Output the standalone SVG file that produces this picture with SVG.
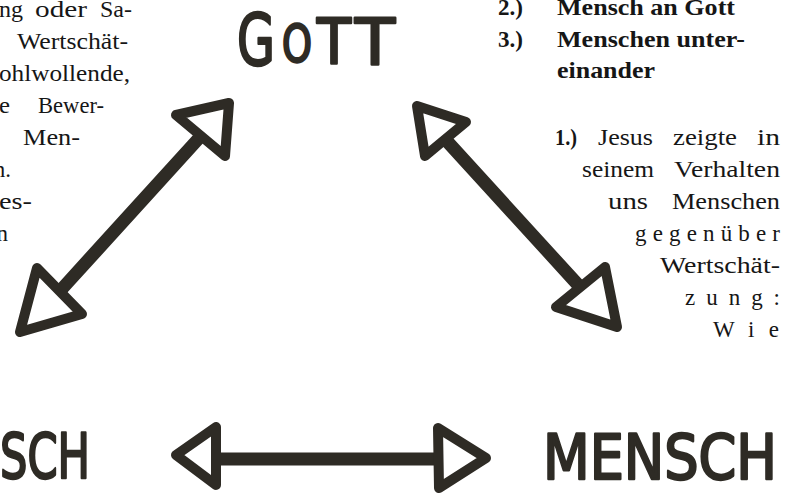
<svg xmlns="http://www.w3.org/2000/svg" width="785" height="495" viewBox="0 0 785 495">
<style>
  .t{font-family:"Liberation Serif","Times New Roman",serif;font-size:23px;fill:#161616}
  .b{font-weight:bold}
  .hand{font-family:"DejaVu Sans",sans-serif;fill:#2e2b25;stroke:#2e2b25;stroke-width:2.5;stroke-linejoin:round}
  .shaft{fill:none;stroke:#2e2b25;stroke-width:13;stroke-linecap:round}
  .head{fill:#fff;stroke:#2e2b25;stroke-width:10;stroke-linejoin:round}
</style>
<rect width="785" height="495" fill="#fff"/>

<g id="text-left" class="t">
  <text y="17"><tspan x="-1" textLength="24" lengthAdjust="spacingAndGlyphs">ng</tspan> <tspan x="35" textLength="52" lengthAdjust="spacingAndGlyphs">oder</tspan> <tspan x="100" textLength="32" lengthAdjust="spacingAndGlyphs">Sa-</tspan></text>
  <text y="49"><tspan x="17" textLength="111" lengthAdjust="spacingAndGlyphs">Wertschät-</tspan></text>
  <text y="81"><tspan x="-1" textLength="131" lengthAdjust="spacingAndGlyphs">ohlwollende,</tspan></text>
  <text y="113"><tspan x="-1" textLength="11" lengthAdjust="spacingAndGlyphs">e</tspan> <tspan x="38" textLength="66" lengthAdjust="spacingAndGlyphs">Bewer-</tspan></text>
  <text y="145"><tspan x="23" textLength="57" lengthAdjust="spacingAndGlyphs">Men-</tspan></text>
  <text x="11" y="177" text-anchor="end">n.</text>
  <text y="209"><tspan x="-1" textLength="33" lengthAdjust="spacingAndGlyphs">es-</tspan></text>
  <text x="8" y="241" text-anchor="end">n</text>
</g>

<g id="text-right-list" class="t b">
  <text y="15"><tspan x="498" textLength="25" lengthAdjust="spacingAndGlyphs">2.)</tspan> <tspan x="557" textLength="178" lengthAdjust="spacingAndGlyphs">Mensch an Gott</tspan></text>
  <text y="47"><tspan x="498" textLength="25" lengthAdjust="spacingAndGlyphs">3.)</tspan> <tspan x="557" textLength="188" lengthAdjust="spacingAndGlyphs">Menschen unter-</tspan></text>
  <text y="78"><tspan x="557" textLength="98" lengthAdjust="spacingAndGlyphs">einander</tspan></text>
</g>

<g id="text-right" class="t">
  <text y="145"><tspan x="555" class="b" textLength="22" lengthAdjust="spacingAndGlyphs">1.)</tspan> <tspan x="598" textLength="55" lengthAdjust="spacingAndGlyphs">Jesus</tspan> <tspan x="673" textLength="64" lengthAdjust="spacingAndGlyphs">zeigte</tspan> <tspan x="757" textLength="23" lengthAdjust="spacingAndGlyphs">in</tspan></text>
  <text y="177"><tspan x="582" textLength="72" lengthAdjust="spacingAndGlyphs">seinem</tspan> <tspan x="674" textLength="106" lengthAdjust="spacingAndGlyphs">Verhalten</tspan></text>
  <text y="209"><tspan x="608" textLength="40" lengthAdjust="spacingAndGlyphs">uns</tspan> <tspan x="672" textLength="108" lengthAdjust="spacingAndGlyphs">Menschen</tspan></text>
  <text x="635" y="241" textLength="145" lengthAdjust="spacing">gegenüber</text>
  <text x="660" y="273" textLength="120" lengthAdjust="spacingAndGlyphs">Wertschät-</text>
  <text x="685" y="305" textLength="95" lengthAdjust="spacing">zung:</text>
  <text x="713" y="337" textLength="66" lengthAdjust="spacing">Wie</text>
</g>

<g id="gott">
  <text class="hand" y="65"><tspan x="237" font-size="72" textLength="38" lengthAdjust="spacingAndGlyphs">G</tspan><tspan x="282" y="62" font-size="52" textLength="30" lengthAdjust="spacingAndGlyphs">O</tspan><tspan x="317" y="63" font-size="62" textLength="34" lengthAdjust="spacingAndGlyphs">T</tspan><tspan x="355" y="65" font-size="64" textLength="40" lengthAdjust="spacingAndGlyphs">T</tspan></text>
</g>

<g id="mensch-left">
  <text class="hand" x="0" y="478" font-size="63" textLength="90" lengthAdjust="spacingAndGlyphs">SCH</text>
</g>

<g id="mensch-right">
  <text class="hand" x="543" y="479" font-size="63" textLength="234" lengthAdjust="spacingAndGlyphs">MENSCH</text>
</g>

<g id="connectors">
  <g id="arrow-gott-mensch-left">
    <line class="shaft" x1="200" y1="137" x2="60" y2="291"/>
    <polygon class="head" points="176,115 229,103 225,156"/>
    <polygon class="head" points="37,268 82,314 20,332"/>
  </g>
  <g id="arrow-gott-mensch-right">
    <line class="shaft" x1="445" y1="139" x2="580" y2="287"/>
    <polygon class="head" points="417,106 466,122 425,156"/>
    <polygon class="head" points="605,267 617,327 556,307"/>
  </g>
  <g id="arrow-mensch-mensch">
    <line class="shaft" x1="215" y1="459" x2="438" y2="459"/>
    <polygon class="head" points="176,455 216,427 216,485"/>
    <polygon class="head" points="438,428 486,458 439,488"/>
  </g>
</g>
</svg>
